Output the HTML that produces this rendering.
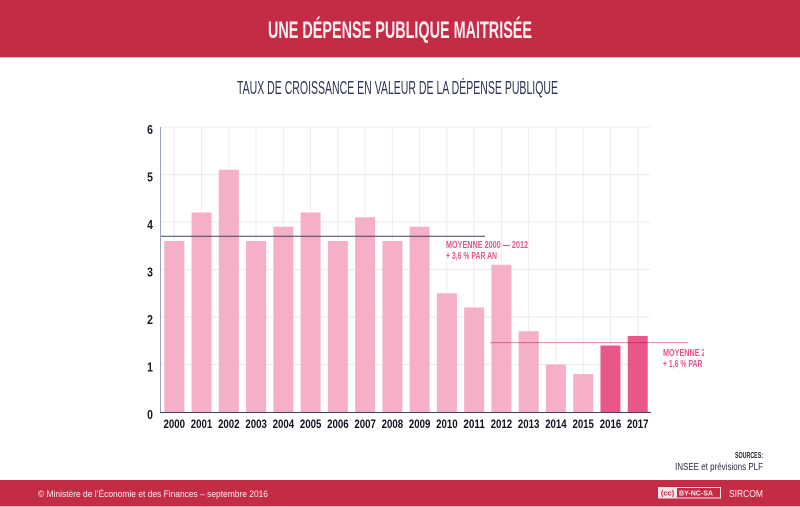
<!DOCTYPE html>
<html lang="fr">
<head>
<meta charset="utf-8">
<title>Une dépense publique maitrisée</title>
<style>
html,body{margin:0;padding:0;background:#fff;width:800px;height:507px;overflow:hidden}
svg{display:block}
text{font-family:"Liberation Sans",sans-serif}
</style>
</head>
<body>
<svg id="chart" xmlns="http://www.w3.org/2000/svg" width="800" height="507" viewBox="0 0 800 507">
  <defs>
    <clipPath id="label-clip"><rect x="600" y="330" width="104" height="50"/></clipPath>
  </defs>
  <rect x="0" y="0" width="800" height="507" fill="#ffffff"/>
  <rect x="0" y="0" width="800" height="57" fill="#c42c46"/>
  <rect x="0" y="57" width="800" height="1" fill="#f0b7c4"/>
  <text x="268" y="38" font-size="24" font-weight="700" fill="#fbeef1" textLength="264" lengthAdjust="spacingAndGlyphs">UNE DÉPENSE PUBLIQUE MAITRISÉE</text>
  <text x="237" y="94" font-size="18" fill="#2e3156" textLength="321" lengthAdjust="spacingAndGlyphs">TAUX DE CROISSANCE EN VALEUR DE LA DÉPENSE PUBLIQUE</text>

  <g id="grid"></g>
  <g id="bars"></g>
  <g id="means"></g>
  <g id="axes"></g>

  <g fill="#e5528a" font-size="10" font-weight="700">
    <text x="446" y="248" textLength="82" lengthAdjust="spacingAndGlyphs">MOYENNE 2000 — 2012</text>
    <text x="446" y="259" textLength="51" lengthAdjust="spacingAndGlyphs">+ 3,6 % PAR AN</text>
  </g>
  <g clip-path="url(#label-clip)" fill="#e5528a" font-size="10" font-weight="700">
    <text x="663" y="356" textLength="82" lengthAdjust="spacingAndGlyphs">MOYENNE 2013 — 2017</text>
    <text x="663" y="367" textLength="51" lengthAdjust="spacingAndGlyphs">+ 1,6 % PAR AN</text>
  </g>

  <text x="763" y="458" font-size="8" font-weight="700" fill="#1c1c2c" text-anchor="end" textLength="28" lengthAdjust="spacingAndGlyphs">SOURCES:</text>
  <text x="675" y="470" font-size="10" fill="#2a2a3e" textLength="88" lengthAdjust="spacingAndGlyphs">INSEE et prévisions PLF</text>

  <rect x="0" y="480" width="800" height="26" fill="#c42c46"/>
  <rect x="0" y="506" width="800" height="1" fill="#e9a9b6"/>
  <text x="38" y="497" font-size="9.5" fill="#fbeef1" textLength="230" lengthAdjust="spacingAndGlyphs">© Ministère de l’Économie et des Finances – septembre 2016</text>
  <g>
    <rect x="658" y="487" width="63" height="11.5" fill="#f6e3e7"/>
    <rect x="677" y="488" width="43" height="9.5" fill="#c42c46"/>
    <text x="667.5" y="495.5" font-size="7.5" font-weight="700" fill="#c42c46" text-anchor="middle">(cc)</text>
    <text x="679" y="495.5" font-size="7" font-weight="700" fill="#fbeef1" textLength="34" lengthAdjust="spacingAndGlyphs">BY-NC-SA</text>
  </g>
  <text x="729" y="497" font-size="10" fill="#fbeef1" textLength="34" lengthAdjust="spacingAndGlyphs">SIRCOM</text>
</svg>
<script>
const years = ['2000','2001','2002','2003','2004','2005','2006','2007','2008','2009','2010','2011','2012','2013','2014','2015','2016','2017'];
const growthValues = [3.6,4.2,5.1,3.6,3.9,4.2,3.6,4.1,3.6,3.9,2.5,2.2,3.1,1.7,1.0,0.8,1.4,1.6];
const forecastYears = ['2016','2017'];
const yTickLabels = ['0','1','2','3','4','5','6'];
const averageValues = [3.7,1.46];

const SVG_NS = 'http://www.w3.org/2000/svg';
const plotLeft = 160.5, plotRight = 650, plotBottom = 412, plotTop = 127;
const yMax = 6;
const firstBarLeft = 164.3, barPitch = 27.26, barWidth = 20;

function yScale(v){ return plotBottom - (v / yMax) * (plotBottom - plotTop); }
function xBandLeft(i){ return firstBarLeft + i * barPitch; }
function xBandCenter(i){ return xBandLeft(i) + barWidth / 2; }

function make(tag, attrs, parent, text){
  const el = document.createElementNS(SVG_NS, tag);
  for (const k in attrs) el.setAttribute(k, attrs[k]);
  if (text !== undefined) el.textContent = text;
  parent.appendChild(el);
  return el;
}

const gridGroup = document.getElementById('grid');
const barsGroup = document.getElementById('bars');
const meansGroup = document.getElementById('means');
const axesGroup = document.getElementById('axes');

yTickLabels.forEach(function(label){
  const v = Number(label);
  if (v > 0) {
    const gl = make('line', {x1: plotLeft, x2: plotRight, y1: yScale(v), y2: yScale(v), stroke: '#ebebf2', 'stroke-width': 1}, gridGroup);
    
    
  }
  const t = make('text', {x: 150, y: yScale(v) + 7, 'font-size': 13, 'font-weight': 700, fill: '#17172a', 'text-anchor': 'middle', transform: 'translate(150 0) scale(0.8 1) translate(-150 0)'}, axesGroup, label);
  
  
});

years.forEach(function(year, i){
  const vl = make('line', {x1: xBandCenter(i), x2: xBandCenter(i), y1: plotTop, y2: plotBottom, stroke: '#ebebf2', 'stroke-width': 1}, gridGroup);
  
  

  const isForecast = forecastYears.indexOf(year) !== -1;
  const bar = make('rect', {x: xBandLeft(i), y: yScale(growthValues[i]), width: barWidth, height: plotBottom - yScale(growthValues[i]), fill: isForecast ? '#e9578a' : '#f5afc8'}, barsGroup);
  
  

  const lbl = make('text', {x: xBandCenter(i), y: 428, 'font-size': 12, 'font-weight': 700, fill: '#10101f', 'text-anchor': 'middle', textLength: 21.5, lengthAdjust: 'spacingAndGlyphs'}, axesGroup, year);
  
  
});

const line1 = make('line', {x1: 160, x2: 485, y1: yScale(averageValues[0]), y2: yScale(averageValues[0]), stroke: '#3e4163', 'stroke-width': 1}, meansGroup);


const line2 = make('line', {x1: 490, x2: 688, y1: yScale(averageValues[1]), y2: yScale(averageValues[1]), stroke: '#ee86a8', 'stroke-width': 1, style: 'mix-blend-mode:multiply'}, meansGroup);



const yAxis = make('line', {x1: plotLeft, x2: plotLeft, y1: plotTop, y2: plotBottom, stroke: '#9aa3c0', 'stroke-width': 1}, axesGroup);


const xAxis = make('line', {x1: 160, x2: 651, y1: plotBottom + 0.5, y2: plotBottom + 0.5, stroke: '#3d4060', 'stroke-width': 1}, axesGroup);


</script>
</body>
</html>
